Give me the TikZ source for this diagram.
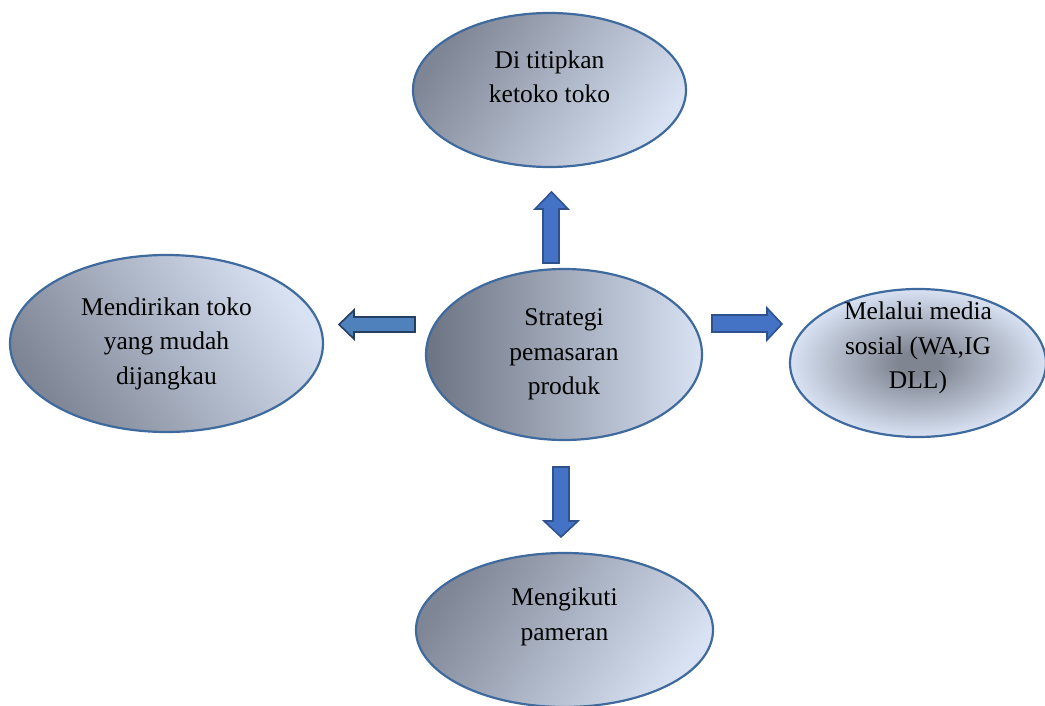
\documentclass[tikz,border=0pt]{standalone}
\usepackage{fontspec}
\setmainfont{Liberation Serif}
\usetikzlibrary{shapes.geometric}
\definecolor{ellDark}{RGB}{126,133,149}
\definecolor{ellLight}{RGB}{216,226,243}
\definecolor{cenDark}{RGB}{108,115,130}
\definecolor{radDark}{RGB}{128,133,146}
\definecolor{ellBorder}{RGB}{62,106,158}
\definecolor{arrFill}{RGB}{68,114,196}
\definecolor{arrBorder}{RGB}{47,82,143}
\definecolor{arrFillB}{RGB}{79,129,189}
\definecolor{arrBorderB}{RGB}{36,63,96}
\pgfdeclarehorizontalshading{ellgrad}{100bp}{color(0bp)=(ellDark); color(25bp)=(ellDark); color(75bp)=(ellLight); color(100bp)=(ellLight)}
\pgfdeclarehorizontalshading{cengrad}{100bp}{color(0bp)=(cenDark); color(25bp)=(cenDark); color(75bp)=(ellLight); color(100bp)=(ellLight)}
\pgfdeclareradialshading{radgrad}{\pgfpoint{0bp}{0bp}}{color(0bp)=(radDark); color(4bp)=(radDark); color(25bp)=(ellLight); color(50bp)=(ellLight)}
\tikzset{
  ell/.style={ellipse, draw=ellBorder, line width=2.2pt, inner sep=0pt, align=center,
    font=\fontsize{25.5}{34.5}\selectfont, text=black},
  blockarrow/.style={fill=arrFill, draw=arrBorder, line width=1.6pt, line join=miter},
  blockarrowB/.style={fill=arrFillB, draw=arrBorderB, line width=1.6pt, line join=miter}
}
\begin{document}
\begin{tikzpicture}[x=1pt,y=-1pt]
\useasboundingbox (0,0) rectangle (1045,706);
\begin{scope}
\clip (0,0) rectangle (1045,706);
\node[ell, shading=ellgrad, shading angle=-35, minimum width=273pt, minimum height=154pt,
  text height=39pt, text depth=13pt] (top) at (549.5,90) {Di titipkan\\ketoko toko};
\node[ell, shading=ellgrad, shading angle=35, minimum width=313pt, minimum height=177pt] (left) at (166.5,343.5) {Mendirikan toko\\yang mudah\\dijangkau};
\node[ell, shading=cengrad, shading angle=0, minimum width=276pt, minimum height=171pt] (center) at (564,354.5) {Strategi\\pemasaran\\produk};
\node[ell, shading=radgrad, minimum width=256pt, minimum height=148pt,
  text height=71pt, text depth=20pt] (right) at (918,363) {Melalui media\\sosial (WA,IG\\DLL)};
\node[ell, shading=ellgrad, shading angle=-35, minimum width=297pt, minimum height=154pt,
  text height=39pt, text depth=18.5pt] (bottom) at (564.5,630) {Mengikuti\\pameran};
\end{scope}
% up arrow
\draw[blockarrow] (543,263) -- (543,209) -- (535,209) -- (551.5,192) -- (568,209) -- (559,209) -- (559,263) -- cycle;
% left arrow
\draw[blockarrowB] (415,317) -- (354,317) -- (354,310) -- (339,324.5) -- (354,339) -- (354,332) -- (415,332) -- cycle;
% right arrow
\draw[blockarrow] (712,315) -- (767,315) -- (767,308) -- (782,324) -- (767,340) -- (767,332) -- (712,332) -- cycle;
% down arrow
\draw[blockarrow] (553,467) -- (553,521) -- (544,521) -- (561,537) -- (578,521) -- (569,521) -- (569,467) -- cycle;
\end{tikzpicture}
\end{document}
